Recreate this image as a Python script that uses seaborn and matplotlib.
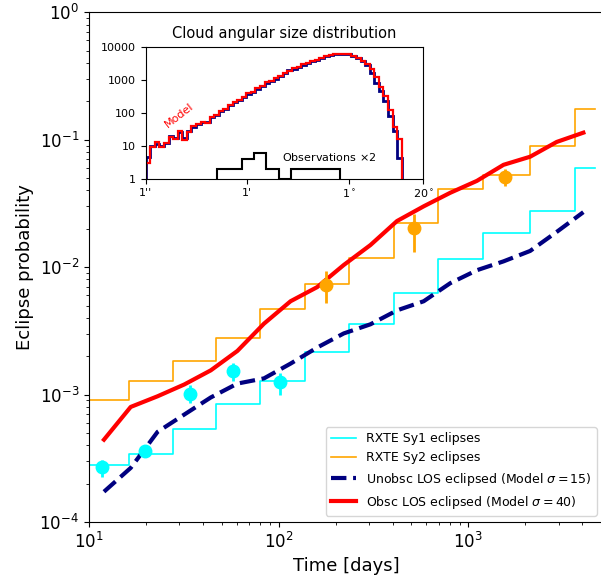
import numpy as np
import matplotlib
matplotlib.use("Agg")
import matplotlib.pyplot as plt
from matplotlib.ticker import NullLocator, FixedLocator, FixedFormatter
import seaborn as sns

# main panel: RXTE eclipse statistics (binned step curves)
bin_edges_days = [9.6, 16.2, 27.6, 46.5, 80.2, 137, 234, 408, 696, 1200, 2113, 3656, 4660]
sy1_steps = [2.78e-4, 3.39e-4, 5.33e-4, 8.5e-4, 1.29e-3, 2.14e-3, 3.56e-3, 6.24e-3,
             1.16e-2, 1.84e-2, 2.77e-2, 5.98e-2]
sy2_steps = [9.0e-4, 1.29e-3, 1.85e-3, 2.8e-3, 4.67e-3, 7.44e-3, 1.18e-2, 2.22e-2,
             4.11e-2, 5.3e-2, 9.0e-2, 0.175]

# observed points with error bars
sy1_t = [11.7, 19.7, 34, 57.5, 102]
sy1_p = [2.72e-4, 3.64e-4, 1.01e-3, 1.52e-3, 1.25e-3]
sy1_lo = [2.27e-4, 3.3e-4, 8.6e-4, 1.28e-3, 1.0e-3]
sy1_hi = [3.08e-4, 4.0e-4, 1.18e-3, 1.78e-3, 1.49e-3]
sy2_t = [178, 518, 1570]
sy2_p = [7.3e-3, 2.03e-2, 5.14e-2]
sy2_lo = [5.2e-3, 1.32e-2, 4.37e-2]
sy2_hi = [9.35e-3, 2.61e-2, 5.9e-2]

# model curves
model_t = [12.0, 16.6, 23.0, 31.8, 43.9, 60.6, 83.7, 115.6, 159.7, 220.6, 304.8, 421,
           582, 803, 1110, 1534, 2119, 2926, 4043]
unobsc_p = [1.73e-4, 2.66e-4, 5.1e-4, 6.97e-4, 9.5e-4, 1.22e-3, 1.34e-3, 1.75e-3, 2.34e-3,
            3.02e-3, 3.56e-3, 4.58e-3, 5.4e-3, 7.48e-3, 9.46e-3, 1.11e-2, 1.34e-2,
            1.89e-2, 2.7e-2]
obsc_p = [4.43e-4, 8.0e-4, 9.7e-4, 1.2e-3, 1.55e-3, 2.2e-3, 3.6e-3, 5.4e-3, 6.97e-3,
          1.04e-2, 1.49e-2, 2.3e-2, 3.0e-2, 3.83e-2, 4.75e-2, 6.35e-2, 7.35e-2, 9.6e-2,
          0.1135]

# inset: cloud angular size distribution (arcsec), 0.08 dex bins from 1''
model_bin_dex = 0.08
model_counts_a = [4.5, 10, 11, 10, 12, 19, 17, 26, 17, 27, 38, 45, 52, 52, 74, 86,
                  112, 128, 168, 218, 236, 296, 380, 430, 540, 665, 820, 920, 1080,
                  1300, 1540, 1900, 2180, 2480, 2880, 3280, 3680, 4080, 4520, 5120,
                  5580, 6000, 6200, 6150, 5800, 5200, 4400, 3600, 2700, 1560, 780,
                  440, 220, 78, 27, 4.3]
model_counts_b = [2.9, 9.3, 12.7, 9, 12.3, 18, 15.5, 28, 15, 25.6, 40, 44, 53, 50, 76,
                  85, 115, 126, 171, 215, 240, 293, 388, 425, 548, 660, 830, 910, 1100,
                  1290, 1560, 1880, 2200, 2460, 2900, 3250, 3700, 4050, 4550, 5100,
                  5600, 6000, 6200, 6200, 5900, 5350, 4550, 3700, 2950, 2040, 1180,
                  615, 310, 124, 37, 16]
obs_edges = [17.9, 29.4, 48.2, 79.1, 129.7, 212.8, 349, 573, 940, 1542, 2529]
obs_counts_x2 = [2, 2, 4, 6, 2, 0, 2, 2, 2, 2]

plt.rcParams['font.family'] = ['DejaVu Sans']
plt.rcParams['font.size'] = 12

fig = plt.figure(figsize=(6.01, 5.82), dpi=100)
# axes runs slightly past the right edge of the image (cropped figure)
ax = fig.add_axes([0.148, 0.103, 0.855, 0.876])

sy1_y = sy1_steps + [sy1_steps[-1]]
sy2_y = sy2_steps + [sy2_steps[-1]]
sns.lineplot(x=bin_edges_days, y=sy1_y, ax=ax, color="cyan", lw=1.2,
             drawstyle="steps-post", label="RXTE Sy1 eclipses")
sns.lineplot(x=bin_edges_days, y=sy2_y, ax=ax, color="orange", lw=1.2,
             drawstyle="steps-post", label="RXTE Sy2 eclipses")
sns.lineplot(x=model_t, y=unobsc_p, ax=ax, color="navy", lw=3, linestyle="--",
             label=r"Unobsc LOS eclipsed (Model $\sigma=15$)")
sns.lineplot(x=model_t, y=obsc_p, ax=ax, color="red", lw=3,
             label=r"Obsc LOS eclipsed (Model $\sigma=40$)")

sy1_err = [np.array(sy1_p) - np.array(sy1_lo), np.array(sy1_hi) - np.array(sy1_p)]
sy2_err = [np.array(sy2_p) - np.array(sy2_lo), np.array(sy2_hi) - np.array(sy2_p)]
ax.errorbar(sy1_t, sy1_p, yerr=sy1_err, fmt="o", color="cyan", ms=9, elinewidth=2)
ax.errorbar(sy2_t, sy2_p, yerr=sy2_err, fmt="o", color="orange", ms=9, elinewidth=2)

ax.set_xscale("log")
ax.set_yscale("log")
ax.set_xlim(10, 5120)
ax.set_ylim(1e-4, 1)
ax.set_xlabel("Time [days]", fontsize=13)
ax.set_ylabel("Eclipse probability", fontsize=13)
ax.legend(loc="lower right", fontsize=9)

# inset
ax_in = fig.add_axes([0.2424, 0.693, 0.4619, 0.2268])
model_edges = 10 ** (model_bin_dex * np.arange(len(model_counts_b) + 1))
ax_in.stairs(model_counts_a, model_edges, color="navy", lw=2)
ax_in.stairs(model_counts_b, model_edges, color="red", lw=1.6)
ax_in.stairs(np.clip(obs_counts_x2, 1, None), obs_edges, baseline=1, color="black", lw=1.5)
ax_in.set_xscale("log")
ax_in.set_yscale("log")
ax_in.set_xlim(1, 72000)
ax_in.set_ylim(1, 10000)
ax_in.xaxis.set_major_locator(FixedLocator([1, 60, 3600, 72000]))
ax_in.xaxis.set_major_formatter(FixedFormatter(["1''", "1'", r"1$^\circ$", r"20$^\circ$"]))
ax_in.xaxis.set_minor_locator(NullLocator())
ax_in.yaxis.set_major_locator(FixedLocator([1, 10, 100, 1000, 10000]))
ax_in.yaxis.set_major_formatter(FixedFormatter(["1", "10", "100", "1000", "10000"]))
ax_in.yaxis.set_minor_locator(NullLocator())
ax_in.tick_params(labelsize=8)
ax_in.set_title("Cloud angular size distribution", fontsize=10.5)
ax_in.text(3.8, 82, "Model", color="red", fontsize=8, rotation=38,
           ha="center", va="center")
ax_in.text(243, 4.6, r"Observations $\times$2", fontsize=8, ha="left", va="center")

fig.savefig("out.png", dpi=100)
